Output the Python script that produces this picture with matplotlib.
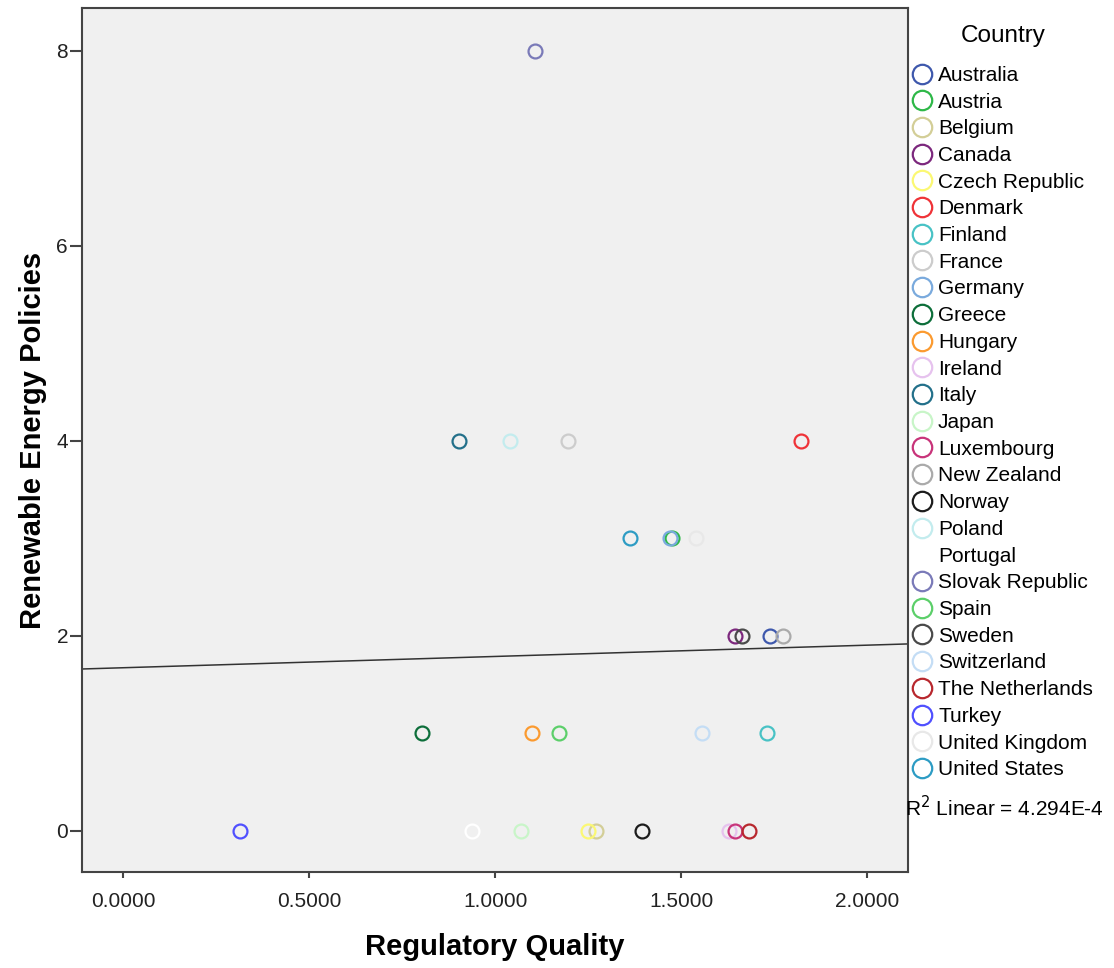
import matplotlib.pyplot as plt
import numpy as np
from matplotlib.lines import Line2D

plt.rcParams['font.family'] = ['Liberation Sans', 'DejaVu Sans']

# Data
countries = ['Australia', 'Austria', 'Belgium', 'Canada', 'Czech Republic', 'Denmark',
             'Finland', 'France', 'Germany', 'Greece', 'Hungary', 'Ireland', 'Italy',
             'Japan', 'Luxembourg', 'New Zealand', 'Norway', 'Poland', 'Portugal',
             'Slovak Republic', 'Spain', 'Sweden', 'Switzerland', 'The Netherlands',
             'Turkey', 'United Kingdom', 'United States']
reg_quality = [1.737, 1.476, 1.271, 1.643, 1.249, 1.821,
               1.729, 1.195, 1.469, 0.803, 1.098, 1.629, 0.901,
               1.069, 1.645, 1.772, 1.394, 1.038, 0.937,
               1.106, 1.170, 1.662, 1.554, 1.681,
               0.314, 1.538, 1.361]
re_policies = [2, 3, 0, 2, 0, 4,
               1, 4, 3, 1, 1, 0, 4,
               0, 0, 2, 0, 4, 0,
               8, 1, 2, 1, 0,
               0, 3, 3]
colors = ['#3e58ac', '#2eb848', '#d3ce97', '#7c287d', '#fbf873', '#ef3338',
          '#48c2c5', '#cccccc', '#7aaadd', '#0d6e3a', '#fb9a2f', '#e6c2ee', '#23708a',
          '#c8f5c8', '#c8347a', '#aaaaaa', '#1c1c1c', '#c3ecee', '#ffffff',
          '#7a7ab8', '#5ccf6a', '#4a4a4a', '#c4ddf5', '#b8282e',
          '#5050ff', '#e8e8e8', '#2d9cc4']

# Linear fit line
fit_intercept = 1.671
fit_slope = 0.1158
r2_text = '4.294E-4'

fig = plt.figure(figsize=(11.14, 9.68), dpi=100)
ax = fig.add_axes([0.0736, 0.0992, 0.7415, 0.8925])
ax.set_facecolor('#f0f0f0')

for c, x, y, col in zip(countries, reg_quality, re_policies, colors):
    ax.plot(x, y, 'o', ms=10, mfc='none', mec=col, mew=1.6, zorder=3)

xlim = (-0.111, 2.109)
xs = np.array(xlim)
ax.plot(xs, fit_intercept + fit_slope * xs, color='#333333', lw=1.1, zorder=2)

ax.set_xlim(*xlim)
ax.set_ylim(-0.424, 8.438)
ax.set_xticks([0, 0.5, 1.0, 1.5, 2.0])
ax.set_xticklabels(['%.4f' % v for v in [0, 0.5, 1.0, 1.5, 2.0]])
ax.set_yticks([0, 2, 4, 6, 8])
ax.tick_params(direction='out', width=1.5, color='#444444',
               labelsize=15, labelcolor='#222222')
ax.tick_params(axis='x', length=4.5, pad=10)
ax.tick_params(axis='y', length=9, pad=1)
for s in ax.spines.values():
    s.set_color('#444444')
    s.set_linewidth(1.5)

ax.set_xlabel('Regulatory Quality', fontsize=21, fontweight='bold', labelpad=16)
ax.set_ylabel('Renewable Energy Policies', fontsize=21, fontweight='bold', labelpad=7)

handles = [Line2D([], [], marker='o', ls='none', ms=14, mfc='none', mec=col, mew=1.6)
           for col in colors]
fig.legend(handles, countries, loc='upper left', bbox_to_anchor=(0.8183, 0.932),
           frameon=False, fontsize=15, handletextpad=0.27, labelspacing=0.37,
           borderaxespad=0, borderpad=0, handlelength=1.0)

fig.text(1003 / 1114, 1 - 36 / 968, 'Country', fontsize=17.5, ha='center', va='center')
fig.text(905 / 1114, 1 - 808 / 968, r'R$^2$ Linear = ' + r2_text, fontsize=15,
         ha='left', va='center')

plt.savefig('out.png', dpi=100)
